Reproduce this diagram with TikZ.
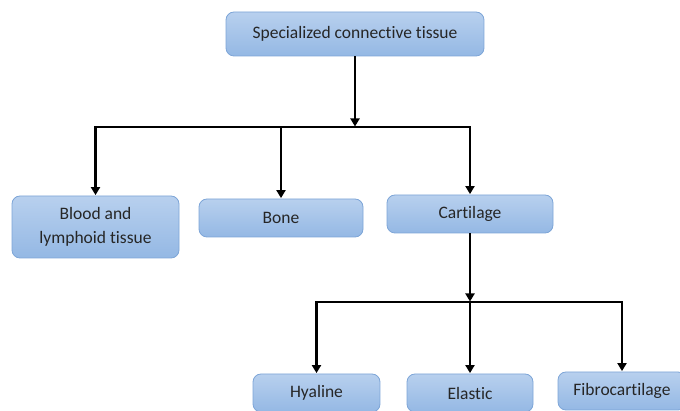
\documentclass[tikz,border=0pt]{standalone}
\usepackage{fontspec}
\setmainfont[Ligatures=NoCommon]{Carlito}
\usetikzlibrary{arrows.meta}
\definecolor{boxtop}{RGB}{184,208,238}
\definecolor{boxbot}{RGB}{148,184,228}
\definecolor{boxline}{RGB}{125,165,215}
\tikzset{
  blk/.style={draw=boxline, line width=0.8pt, rounded corners=8pt,
    top color=boxtop, bottom color=boxbot, font=\fontsize{17.5}{24}\selectfont,
    inner sep=2pt, align=center, text=black!85},
  conn/.style={line width=2.7pt, black},
  arr/.style={conn, -{Triangle[width=9pt,length=8pt]}, shorten >=0.5pt}
}
\begin{document}
\begin{tikzpicture}[x=1pt,y=-1pt]
\useasboundingbox (0,0) rectangle (680,411);
\clip (0,0) rectangle (680,411);
\node[blk, minimum width=258pt, minimum height=44pt] (top) at (355,34) {Specialized connective tissue};
\node[blk, minimum width=167pt, minimum height=62pt] (blood) at (95.5,227) {Blood and\\lymphoid tissue};
\node[blk, minimum width=164pt, minimum height=38pt] (bone) at (281,218) {Bone};
\node[blk, minimum width=166pt, minimum height=38pt] (cart) at (470,214) {Cartilage};
\node[blk, minimum width=127pt, minimum height=38pt] (hyal) at (316.5,393) {Hyaline};
\node[blk, minimum width=126pt, minimum height=38pt] (elas) at (470,393) {Elastic};
\node[blk, minimum width=128pt, minimum height=38pt] (fibro) at (622,391) {Fibrocartilage};
\coordinate (j1) at (355,127);
\coordinate (jl) at (95.5,127);
\coordinate (jm) at (281,127);
\coordinate (jr) at (470,127);
\coordinate (k1) at (470,302);
\coordinate (kl) at (316.5,302);
\coordinate (kr) at (622,302);
\draw[arr] (top.south) -- (j1);
\draw[conn, line cap=rect] (jl) -- (jr);
\draw[arr] (jl) -- (blood.north);
\draw[arr] (jm) -- (bone.north);
\draw[arr] (jr) -- (cart.north);
\draw[arr] (cart.south) -- (k1);
\draw[conn, line cap=rect] (kl) -- (kr);
\draw[arr] (kl) -- (hyal.north);
\draw[arr] (k1) -- (elas.north);
\draw[arr] (kr) -- (fibro.north);
\end{tikzpicture}
\end{document}
